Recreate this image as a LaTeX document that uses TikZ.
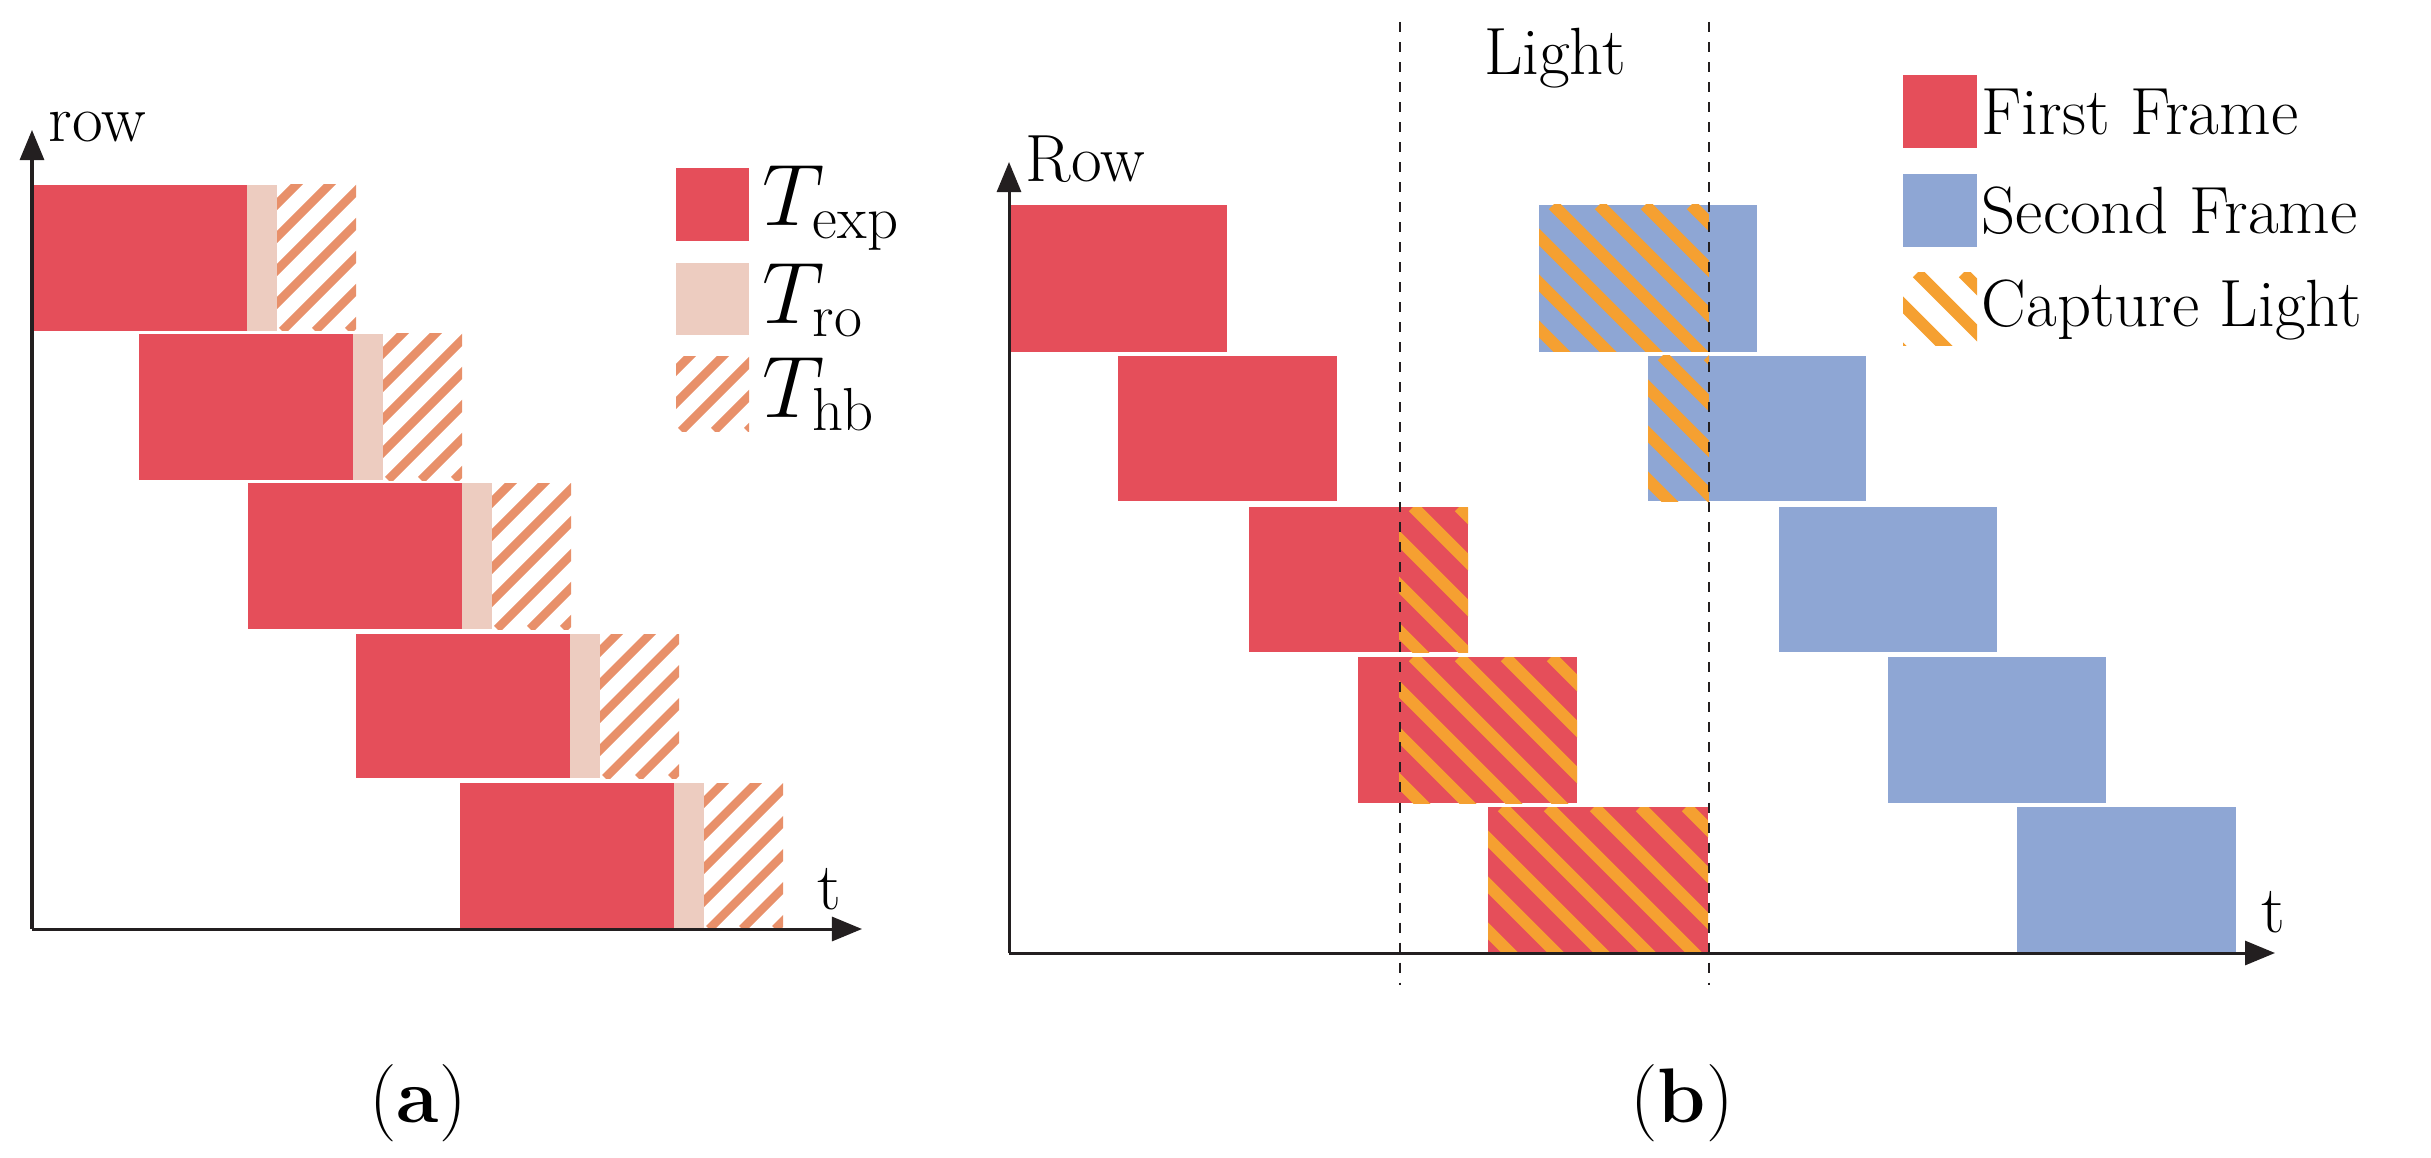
\documentclass[tikz,border=0pt]{standalone}
\usetikzlibrary{arrows.meta}
\definecolor{cexp}{HTML}{E54E5A}
\definecolor{cro}{HTML}{EDCCC0}
\definecolor{chb}{HTML}{E8906A}
\definecolor{cblue}{HTML}{8EA6D4}
\definecolor{corg}{HTML}{F5A031}
\definecolor{cax}{HTML}{231F20}
\newcommand\hatchA[4]{\begin{scope}\clip (#1,#2) rectangle (#3,#4);
 \foreach \t in {-160,-127,...,120}{\draw[chb,line width=0.085cm] (#1+\t,#4) -- ++(320,-320);}\end{scope}}
\newcommand\hatchB[5]{\begin{scope}\clip (#1,#2) rectangle (#3,#4);
 \fill[#5] (#1,#2) rectangle (#3,#4);
 \foreach \t in {-170,-124,...,260}{\draw[corg,line width=0.12cm] (#1+\t,#2) -- ++(320,320);}\end{scope}}
\tikzset{lbl/.style={font=\fontsize{19}{23}\selectfont,inner sep=0pt},
 ax/.style={cax,line width=0.03cm,-{Triangle[length=0.3cm,width=0.24cm]}},
 dsh/.style={cax,line width=0.025cm,dash pattern=on 0.1cm off 0.1cm}}
\begin{document}
\begin{tikzpicture}[x=0.01cm,y=-0.01cm]
\useasboundingbox (0,0) rectangle (2431,1158);
% panel a
\foreach \xo/\yt/\yb in {33/185/331,139/334/480,248/483/629,356/634/778,460/783/929}{
 \fill[cexp] (\xo,\yt) rectangle (\xo+214,\yb);
 \fill[cro] (\xo+214,\yt) rectangle (\xo+244,\yb);
 \hatchA{\xo+244}{\yt}{\xo+323}{\yb}
}
\coordinate (ao) at (32,929);
\coordinate (ay) at (32,130);
\coordinate (ax) at (862,929);
\draw[ax] (ao) -- (ay);
\draw[ax] (ao) -- (ax);
\node[lbl,anchor=base west] (rowa) at (48,142) {row};
\node[lbl] (ta) at (829,889) {t};
\fill[cexp] (676,168) rectangle (749,241);
\fill[cro] (676,263) rectangle (749,335);
\hatchA{676}{357}{749}{431}
\node[lbl,anchor=west,font=\fontsize{23}{26}\selectfont] (le1) at (762,208) {$T_{\mathrm{exp}}$};
\node[lbl,anchor=west,font=\fontsize{23}{26}\selectfont] (le2) at (762,300) {$T_{\mathrm{ro}}$};
\node[lbl,anchor=west,font=\fontsize{23}{26}\selectfont] (le3) at (762,394) {$T_{\mathrm{hb}}$};
\node[lbl,font=\fontsize{22}{26}\selectfont] (capa) at (418,1103) {(\textbf{a})};
% panel b
\fill[cexp] (1009,205) rectangle (1227,352);
\fill[cexp] (1118,356) rectangle (1337,501);
\fill[cexp] (1249,507) rectangle (1399,652);
\hatchB{1399}{507}{1468}{652}{cexp}
\fill[cexp] (1358,657) rectangle (1399,803);
\hatchB{1399}{657}{1577}{803}{cexp}
\hatchB{1488}{807}{1708}{953}{cexp}
\hatchB{1539}{205}{1709}{352}{cblue}
\fill[cblue] (1709,205) rectangle (1757,352);
\hatchB{1648}{356}{1709}{501}{cblue}
\fill[cblue] (1709,356) rectangle (1866,501);
\fill[cblue] (1779,507) rectangle (1997,652);
\fill[cblue] (1888,657) rectangle (2106,803);
\fill[cblue] (2017,807) rectangle (2236,953);
\coordinate (bo) at (1009,953);
\coordinate (by) at (1009,162);
\coordinate (bx) at (2275,953);
\draw[ax] (bo) -- (by);
\draw[ax] (bo) -- (bx);
\coordinate (d1t) at (1400,22); \coordinate (d1b) at (1400,985);
\coordinate (d2t) at (1709,22); \coordinate (d2b) at (1709,985);
\draw[dsh] (d1t) -- (d1b);
\draw[dsh] (d2t) -- (d2b);
\node[lbl,anchor=base west] (rowb) at (1025,182) {Row};
\node[lbl] (tb) at (2273,912) {t};
\node[lbl] (light) at (1555,58) {Light};
\fill[cexp] (1903,75) rectangle (1977,148);
\fill[cblue] (1903,174) rectangle (1977,247);
\begin{scope}\clip (1903,273) rectangle (1977,346);
 \foreach \t in {-170,-124,...,120}{\draw[corg,line width=0.12cm] (1903+\t,273) -- ++(320,320);}\end{scope}
\node[lbl,anchor=west] (lb1) at (1981,112) {First Frame};
\node[lbl,anchor=west] (lb2) at (1981,211) {Second Frame};
\node[lbl,anchor=west] (lb3) at (1981,310) {Capture Light};
\node[lbl,font=\fontsize{22}{26}\selectfont] (capb) at (1682,1103) {(\textbf{b})};
\end{tikzpicture}
\end{document}
